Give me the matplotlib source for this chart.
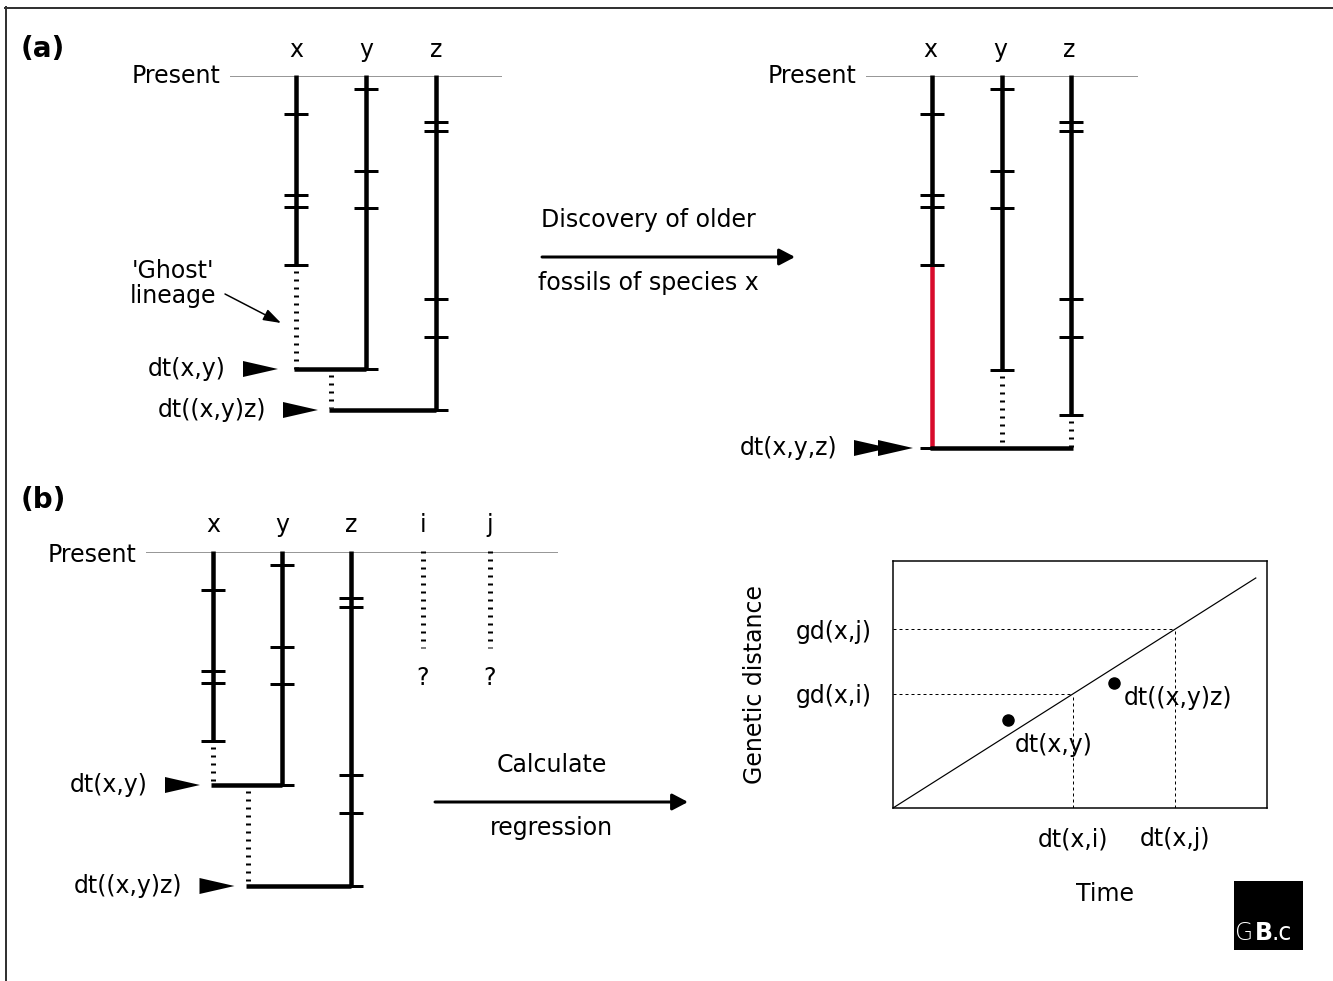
import matplotlib
matplotlib.use("Agg")
import matplotlib.pyplot as plt
from matplotlib.patches import Polygon, Rectangle

W, H = 1333, 981
PX = 0.72  # points per pixel at dpi 100
FS = 17

# fossil finds, as depth below the "Present" line (same record in every tree)
species = ["x", "y", "z"]
extra_species = ["i", "j"]
fossils_x = [39, 120, 132, 190]
fossils_y = [14, 96, 133]
fossils_z = [47, 56, 224, 262]

# tree (a), before the discovery
node_xy_a = 294
node_xyz_a = 335
oldest_y_a = 294
oldest_z_a = 335

# tree (a), after the discovery of older x fossils
node_xyz_a2 = 373
oldest_x_a2 = 373
oldest_y_a2 = 295
oldest_z_a2 = 340

# tree (b)
node_xy_b = 234
node_xyz_b = 335
oldest_y_b = 234
oldest_z_b = 335
unknown_depth = 97

# regression panel
rate = 0.96
line_t = [0, 9.7]
dt_points = [3.07, 5.91]
gd_points = [3.56, 5.06]
point_labels = ["dt(x,y)", "dt((x,y)z)"]
dt_new = [4.81, 7.54]
dt_new_labels = ["dt(x,i)", "dt(x,j)"]
gd_new_labels = ["gd(x,i)", "gd(x,j)"]


def lineage(ax, x, y0, y1, color="black"):
    ax.plot([x, x], [y0, y1], color=color, lw=4.5 * PX, solid_capstyle="butt")


def ghost(ax, x, y0, y1):
    ax.plot([x, x], [y0, y1], color="black", lw=5 * PX,
            ls=(0, (0.4, 1.2)), dash_capstyle="butt")


def ticks(ax, x, ys):
    ax.hlines(ys, x - 12, x + 12, color="black", lw=3 * PX)


def bar(ax, x0, x1, y):
    ax.plot([x0, x1], [y, y], color="black", lw=4.5 * PX, solid_capstyle="butt")


def pointer(ax, tip, y, label, n=1):
    for k in range(n):
        t = tip - k * 24
        ax.add_patch(Polygon([[t - 35, y - 8], [t - 35, y + 8], [t, y]],
                             closed=True, fc="black", ec="none"))
    ax.text(tip - 24 * (n - 1) - 52, y + 7, label, fontsize=FS,
            ha="right", va="baseline")


def present(ax, x0, x1, y, text_dy):
    ax.plot([x0, x1], [y + 0.5, y + 0.5], color="#333333", lw=1 * PX,
            ls=(0, (1, 1)))
    ax.text(x0 - 9, y + text_dy, "Present", fontsize=FS, ha="right", va="baseline")


def big_arrow(ax, x0, x1, y, top, bottom, shift):
    ax.annotate("", xy=(x1, y), xytext=(x0, y),
                arrowprops=dict(arrowstyle="-|>,head_length=0.95,head_width=0.5",
                                lw=3 * PX, color="black", shrinkA=0, shrinkB=0,
                                mutation_scale=10))
    mid = (x0 + x1) / 2 + shift
    ax.text(mid, y - 30, top, fontsize=FS, ha="center", va="baseline")
    ax.text(mid, y + 33, bottom, fontsize=FS, ha="center", va="baseline")


fig = plt.figure(figsize=(W / 100, H / 100), dpi=100)
ax = fig.add_axes([0, 0, 1, 1])
ax.set_xlim(0, W)
ax.set_ylim(H, 0)
ax.set_axis_off()

# frame
ax.plot([5, W], [7.5, 7.5], color="#333333", lw=2 * PX)
ax.plot([5.5, 5.5], [7, H], color="#333333", lw=2 * PX)

# ---- (a) left tree
ax.text(21, 57, "(a)", fontsize=20, fontweight="bold", ha="left", va="baseline")
p0 = 75
cx, cy, cz = 296, 366, 436
present(ax, 230, 501, p0, 8)
for c, s in zip([cx, cy, cz], species):
    ax.text(c, p0 - 18, s, fontsize=FS, ha="center", va="baseline")
lineage(ax, cx, p0, p0 + fossils_x[-1])
ticks(ax, cx, [p0 + f for f in fossils_x])
ghost(ax, cx, p0 + fossils_x[-1] + 6, p0 + node_xy_a)
lineage(ax, cy, p0, p0 + oldest_y_a)
ticks(ax, cy, [p0 + f for f in fossils_y + [oldest_y_a]])
bar(ax, cx - 2, cy, p0 + node_xy_a)
mid = (cx + cy) / 2
ghost(ax, mid, p0 + node_xy_a + 6, p0 + node_xyz_a - 2)
lineage(ax, cz, p0, p0 + node_xyz_a)
ticks(ax, cz, [p0 + f for f in fossils_z + [oldest_z_a]])
bar(ax, mid - 2, cz, p0 + node_xyz_a)
pointer(ax, cx - 18, p0 + node_xy_a, "dt(x,y)")
pointer(ax, mid - 13, p0 + node_xyz_a, "dt((x,y)z)")
ax.text(173, 278, "'Ghost'", fontsize=FS, ha="center", va="baseline")
ax.text(173, 303, "lineage", fontsize=FS, ha="center", va="baseline")
ax.annotate("", xy=(281, 323), xytext=(225, 294),
            arrowprops=dict(arrowstyle="-|>,head_length=0.9,head_width=0.3",
                            lw=1.5 * PX, color="black", shrinkA=0, shrinkB=0,
                            mutation_scale=12))

big_arrow(ax, 542, 795, 257, "Discovery of older", "fossils of species x", -20)

# ---- (a) right tree
cx, cy, cz = 932, 1002, 1071
present(ax, 866, 1137, p0, 8)
for c, s in zip([cx, cy, cz], species):
    ax.text(c - 2, p0 - 18, s, fontsize=FS, ha="center", va="baseline")
lineage(ax, cx, p0, p0 + fossils_x[-1])
lineage(ax, cx, p0 + fossils_x[-1], p0 + oldest_x_a2, color="#d80b2c")
ticks(ax, cx, [p0 + f for f in fossils_x + [oldest_x_a2]])
lineage(ax, cy, p0, p0 + oldest_y_a2)
ticks(ax, cy, [p0 + f for f in fossils_y + [oldest_y_a2]])
ghost(ax, cy, p0 + oldest_y_a2 + 6, p0 + node_xyz_a2)
lineage(ax, cz, p0, p0 + oldest_z_a2)
ticks(ax, cz, [p0 + f for f in fossils_z + [oldest_z_a2]])
ghost(ax, cz, p0 + oldest_z_a2 + 6, p0 + node_xyz_a2)
bar(ax, cx - 2, cz + 2, p0 + node_xyz_a2)
pointer(ax, cx - 19, p0 + node_xyz_a2, "dt(x,y,z)", n=2)

# ---- (b) tree
ax.text(21, 508, "(b)", fontsize=20, fontweight="bold", ha="left", va="baseline")
p0 = 551
cx, cy, cz = 213, 282, 351
ci, cj = 423, 490
present(ax, 146, 557, p0, 11)
for c, s in zip([cx, cy, cz, ci, cj], species + extra_species):
    ax.text(c, p0 - 19, s, fontsize=FS, ha="center", va="baseline")
lineage(ax, cx, p0, p0 + fossils_x[-1])
ticks(ax, cx, [p0 + f for f in fossils_x])
ghost(ax, cx, p0 + fossils_x[-1] + 6, p0 + node_xy_b)
lineage(ax, cy, p0, p0 + oldest_y_b)
ticks(ax, cy, [p0 + f for f in fossils_y + [oldest_y_b]])
bar(ax, cx - 2, cy, p0 + node_xy_b)
mid = (cx + cy) / 2
ghost(ax, mid, p0 + node_xy_b + 6, p0 + node_xyz_b - 2)
lineage(ax, cz, p0, p0 + node_xyz_b)
ticks(ax, cz, [p0 + f for f in fossils_z + [oldest_z_b]])
bar(ax, mid - 2, cz, p0 + node_xyz_b)
for c in [ci, cj]:
    ghost(ax, c, p0, p0 + unknown_depth)
    ax.text(c, p0 + unknown_depth + 37, "?", fontsize=FS, ha="center", va="baseline")
pointer(ax, cx - 13, p0 + node_xy_b, "dt(x,y)")
pointer(ax, mid - 13, p0 + node_xyz_b, "dt((x,y)z)")

big_arrow(ax, 435, 688, 802, "Calculate", "regression", -10)

# GB.c logo
ax.add_patch(Rectangle((1234, 881), 69, 69, fc="black", ec="none"))
ax.text(1235, 940, "G", color="white", fontsize=17, fontweight="light", va="baseline")
ax.text(1255, 940, "B", color="white", fontsize=17, fontweight="bold", va="baseline")
ax.text(1272, 940, ".c", color="white", fontsize=17, va="baseline")

# ---- regression graph
ax2 = fig.add_axes([893 / W, 1 - 808 / H, 374 / W, 247 / H])
ax2.set_xlim(0, 10)
ax2.set_ylim(0, 10)
ax2.plot(line_t, [rate * t for t in line_t], color="black", lw=1.2 * PX)
for t in dt_new:
    g = rate * t
    ax2.plot([t, t], [0, g], color="black", lw=1 * PX, ls=(0, (3, 3)))
    ax2.plot([0, t], [g, g], color="black", lw=1 * PX, ls=(0, (3, 3)))
ax2.plot(dt_points, gd_points, "o", color="black", ms=8)
ax2.annotate(point_labels[0], (dt_points[0], gd_points[0]), xytext=(5, -23),
             textcoords="offset points", fontsize=FS, va="baseline")
ax2.annotate(point_labels[1], (dt_points[1], gd_points[1]), xytext=(7, -16),
             textcoords="offset points", fontsize=FS, va="baseline")
ax2.set_xticks(dt_new, dt_new_labels, fontsize=FS)
ax2.set_yticks([rate * t for t in dt_new], gd_new_labels, fontsize=FS)
ax2.tick_params(length=0)
ax2.tick_params(axis="x", pad=14)
ax2.tick_params(axis="y", pad=15)
for s in ax2.spines.values():
    s.set_linewidth(1.5 * PX)
ax2.text(0.567, -0.35, "Time", transform=ax2.transAxes, fontsize=FS,
         ha="center", va="center")
ax2.text(-0.37, 0.5, "Genetic distance", transform=ax2.transAxes, fontsize=FS,
         ha="center", va="center", rotation=90)

fig.savefig("out.png", dpi=100)
